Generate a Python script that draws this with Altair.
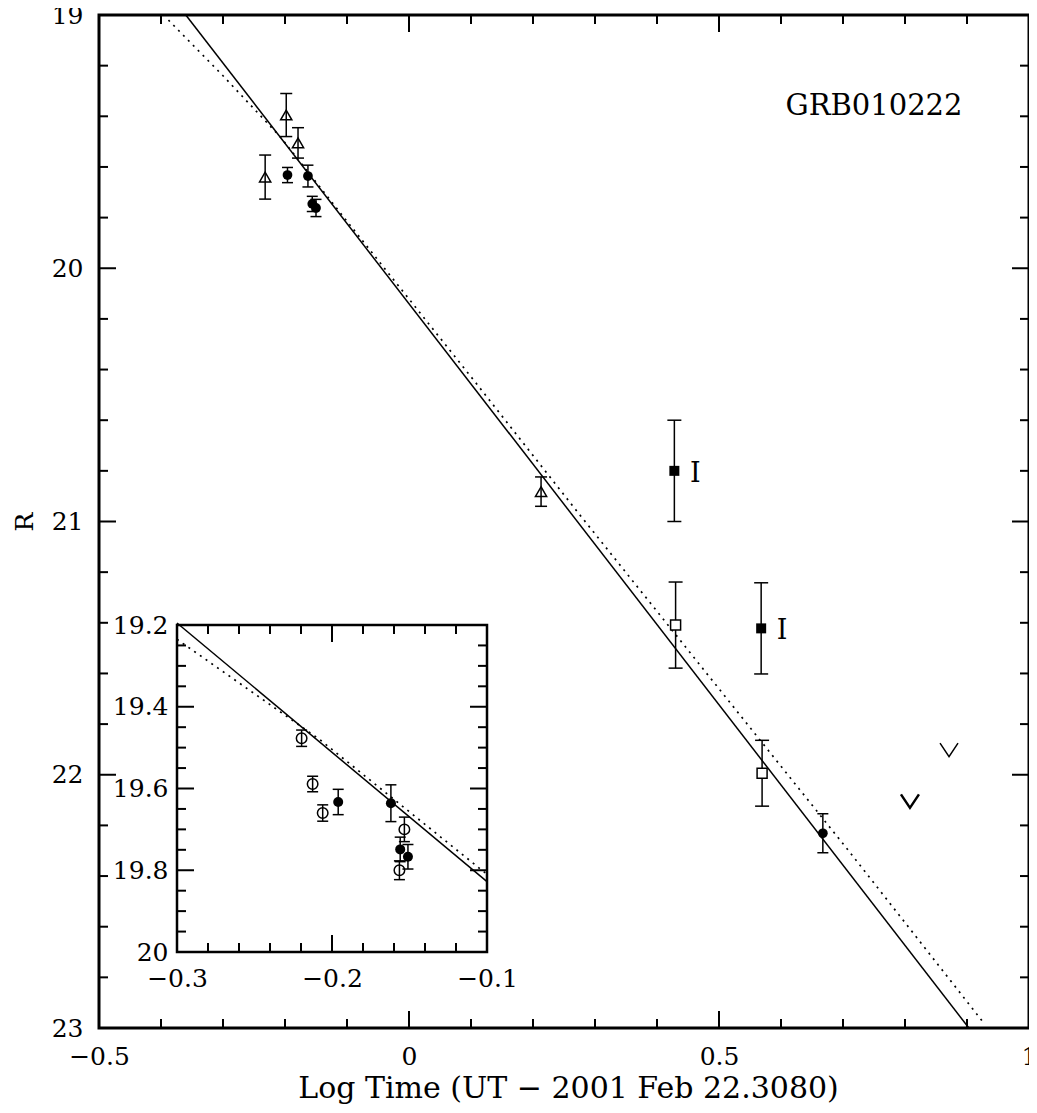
import altair as alt
import pandas as pd

F = "DejaVu Serif"

# ---------------- main panel data (Log time, R) ----------------
tri_x = [-0.232, -0.198, -0.179, 0.213]
tri_r = [19.64, 19.395, 19.505, 20.882]
tri_e = [0.087, 0.085, 0.06, 0.058]

cir_x = [-0.196, -0.163, -0.156, -0.150, 0.6675]
cir_r = [19.632, 19.636, 19.746, 19.762, 22.231]
cir_e = [0.03, 0.043, 0.03, 0.034, 0.077]

osq_x = [0.430, 0.5695]
osq_r = [21.409, 21.994]
osq_e = [0.17, 0.13]

isq_x = [0.428, 0.568]
isq_r = [20.80, 21.422]
isq_e = [0.20, 0.18]
isq_band = ["I", "I"]

lim_x = [0.808, 0.871]
lim_r = [22.104, 21.902]
lim_w = [2.5, 1.5]

solid_x = [-0.36, 0.903]
solid_r = [19.0, 23.0]
dot_x = [-0.388, -0.3, -0.208, -0.108, 0.107, 0.271, 0.709, 0.927]
dot_r = [19.02, 19.24, 19.48, 19.79, 20.45, 20.96, 22.30, 22.98]

label_x = [0.75]
label_r = [19.36]
label_t = ["GRB010222"]

# ---------------- inset data ----------------
in_open_x = [-0.2196, -0.2125, -0.206, -0.1533, -0.1565]
in_open_r = [19.477, 19.589, 19.660, 19.700, 19.800]
in_open_e = [0.02, 0.019, 0.02, 0.03, 0.023]

in_fill_x = [-0.196, -0.162, -0.156, -0.151]
in_fill_r = [19.633, 19.636, 19.749, 19.767]
in_fill_e = [0.031, 0.045, 0.03, 0.03]

in_solid_x = [-0.3, -0.1]
in_solid_r = [19.195, 19.828]
in_dot_x = [-0.3, -0.208, -0.1]
in_dot_r = [19.235, 19.48, 19.81]

# ---------------- tick values ----------------
main_x_major = [-0.5, 0, 0.5, 1]
main_x_minor = [-0.4, -0.3, -0.2, -0.1, 0.1, 0.2, 0.3, 0.4, 0.6, 0.7, 0.8, 0.9]
main_y_major = [19, 20, 21, 22, 23]
main_y_minor = [19.2, 19.4, 19.6, 19.8, 20.2, 20.4, 20.6, 20.8, 21.2, 21.4,
                21.6, 21.8, 22.2, 22.4, 22.6, 22.8]
in_x_major = [-0.3, -0.2, -0.1]
in_x_minor = [-0.28, -0.26, -0.24, -0.22, -0.18, -0.16, -0.14, -0.12]
in_y_major = [19.2, 19.4, 19.6, 19.8, 20.0]
in_y_minor = [19.25, 19.3, 19.35, 19.45, 19.5, 19.55, 19.65, 19.7, 19.75,
              19.85, 19.9, 19.95]

# ---------------- layout ----------------
W, H = 930, 1013
IX0, IX1, IY0, IY1 = 78, 388, 610, 937
MAJ, MIN = 17, 9

xs_main = alt.Scale(domain=[main_x_major[0], main_x_major[-1]], nice=False, zero=False)
ys_main = alt.Scale(domain=[main_y_major[0], main_y_major[-1]], nice=False, zero=False, reverse=True)
xs_in = alt.Scale(domain=[in_x_major[0], in_x_major[-1]], range=[IX0, IX1], nice=False, zero=False)
ys_in = alt.Scale(domain=[in_y_major[0], in_y_major[-1]], range=[IY0, IY1], nice=False, zero=False)

ax_main_x = alt.Axis(values=main_x_major, format=".1~f", ticks=False, domain=False, grid=False,
                     labelFont=F, labelFontSize=25, labelColor="black", labelPadding=16,
                     labelFlush=False, labelOverlap=False,
                     title="Log Time (UT \u2212 2001 Feb 22.3080)", titleFont=F, titleFontSize=30,
                     titleFontWeight="normal", titleColor="black", titleX=W / 2 + 4, titleY=69,
                     titleAlign="center", titleBaseline="alphabetic")
ax_main_y = alt.Axis(values=main_y_major, format="d", ticks=False, domain=False, grid=False,
                     labelFont=F, labelFontSize=25, labelColor="black", labelPadding=16,
                     labelOverlap=False,
                     title="R", titleFont=F, titleFontSize=25, titleFontWeight="normal",
                     titleColor="black", titleAngle=270, titleX=-75, titleY=H / 2,
                     titleAlign="center", titleBaseline="middle")
ax_in_x = alt.Axis(values=in_x_major, format=".1f", orient="bottom", offset=-(H - IY1),
                   ticks=False, domain=False, grid=False, labelFont=F, labelFontSize=25,
                   labelColor="black", labelPadding=14, labelFlush=False, labelOverlap=False,
                   title=None)
ax_in_y = alt.Axis(values=in_y_major, format=".1~f", orient="left", offset=-IX0,
                   ticks=False, domain=False, grid=False, labelFont=F, labelFontSize=25,
                   labelColor="black", labelPadding=9, labelOverlap=False, title=None)


def X(field, sc, ax):
    return alt.X(field, type="quantitative", scale=sc, axis=ax)


def Y(field, sc, ax):
    return alt.Y(field, type="quantitative", scale=sc, axis=ax)


def errbars(xv, rv, ev, sc_x, sc_y, axx, axy, cap):
    df = pd.DataFrame({"x": xv, "lo": [r - e for r, e in zip(rv, ev)],
                       "hi": [r + e for r, e in zip(rv, ev)]})
    base = alt.Chart(df)
    rule = base.mark_rule(color="black", strokeWidth=1.5).encode(
        x=X("x", sc_x, axx), y=Y("lo", sc_y, axy), y2="hi:Q")
    c1 = base.mark_point(shape="M-1,0L1,0", filled=False, color="black", strokeWidth=1.5,
                         size=cap * cap, opacity=1).encode(x=X("x", sc_x, axx), y=Y("lo", sc_y, axy))
    c2 = base.mark_point(shape="M-1,0L1,0", filled=False, color="black", strokeWidth=1.5,
                         size=cap * cap, opacity=1).encode(x=X("x", sc_x, axx), y=Y("hi", sc_y, axy))
    return [rule, c1, c2]


def ticks_x(vals, sc, ax, y_bottom, y_top, length):
    df = pd.DataFrame({"v": vals})
    b = alt.Chart(df).mark_rule(color="black", strokeWidth=2).encode(
        x=X("v", sc, ax), y=alt.value(y_bottom), y2=alt.value(y_bottom - length))
    t = alt.Chart(df).mark_rule(color="black", strokeWidth=2).encode(
        x=X("v", sc, ax), y=alt.value(y_top), y2=alt.value(y_top + length))
    return [b, t]


def ticks_y(vals, sc, ax, x_left, x_right, length):
    df = pd.DataFrame({"v": vals})
    l = alt.Chart(df).mark_rule(color="black", strokeWidth=2).encode(
        y=Y("v", sc, ax), x=alt.value(x_left), x2=alt.value(x_left + length))
    r = alt.Chart(df).mark_rule(color="black", strokeWidth=2).encode(
        y=Y("v", sc, ax), x=alt.value(x_right), x2=alt.value(x_right - length))
    return [l, r]


# ---------------- main layers ----------------
ml = []
ml += ticks_x(main_x_major, xs_main, ax_main_x, H, 0, MAJ)
ml += ticks_x(main_x_minor, xs_main, ax_main_x, H, 0, MIN)
ml += ticks_y(main_y_major, ys_main, ax_main_y, 0, W, MAJ)
ml += ticks_y(main_y_minor, ys_main, ax_main_y, 0, W, MIN)

ml.append(alt.Chart(pd.DataFrame({"x": solid_x, "r": solid_r})).mark_line(
    color="black", strokeWidth=1.5).encode(x=X("x", xs_main, ax_main_x), y=Y("r", ys_main, ax_main_y)))
ml.append(alt.Chart(pd.DataFrame({"x": dot_x, "r": dot_r})).mark_line(
    color="black", strokeWidth=1.7, strokeDash=[2, 5]).encode(
    x=X("x", xs_main, ax_main_x), y=Y("r", ys_main, ax_main_y)))

ml += errbars(tri_x, tri_r, tri_e, xs_main, ys_main, ax_main_x, ax_main_y, 12)
ml += errbars(cir_x, cir_r, cir_e, xs_main, ys_main, ax_main_x, ax_main_y, 11)
ml += errbars(osq_x, osq_r, osq_e, xs_main, ys_main, ax_main_x, ax_main_y, 14)
ml += errbars(isq_x, isq_r, isq_e, xs_main, ys_main, ax_main_x, ax_main_y, 14)

ml.append(alt.Chart(pd.DataFrame({"x": tri_x, "r": tri_r})).mark_point(
    shape="triangle-up", filled=False, color="black", strokeWidth=1.5, size=125, opacity=1).encode(
    x=X("x", xs_main, ax_main_x), y=Y("r", ys_main, ax_main_y)))
ml.append(alt.Chart(pd.DataFrame({"x": cir_x, "r": cir_r})).mark_point(
    shape="circle", filled=True, color="black", size=95, opacity=1).encode(
    x=X("x", xs_main, ax_main_x), y=Y("r", ys_main, ax_main_y)))
ml.append(alt.Chart(pd.DataFrame({"x": osq_x, "r": osq_r})).mark_point(
    shape="square", filled=True, fill="white", stroke="black", strokeWidth=1.5, size=100, opacity=1).encode(
    x=X("x", xs_main, ax_main_x), y=Y("r", ys_main, ax_main_y)))
ml.append(alt.Chart(pd.DataFrame({"x": isq_x, "r": isq_r})).mark_point(
    shape="square", filled=True, color="black", size=100, opacity=1).encode(
    x=X("x", xs_main, ax_main_x), y=Y("r", ys_main, ax_main_y)))
ml.append(alt.Chart(pd.DataFrame({"x": isq_x, "r": isq_r, "b": isq_band})).mark_text(
    font=F, fontSize=27, color="black", dx=21, dy=3, align="center", baseline="middle").encode(
    x=X("x", xs_main, ax_main_x), y=Y("r", ys_main, ax_main_y), text="b:N"))
ml.append(alt.Chart(pd.DataFrame({"x": lim_x, "r": lim_r, "w": lim_w})).mark_point(
    shape="M-1,-0.75L0,0.75L1,-0.75", filled=False, color="black", size=324, opacity=1).encode(
    x=X("x", xs_main, ax_main_x), y=Y("r", ys_main, ax_main_y),
    strokeWidth=alt.StrokeWidth("w:Q", scale=None)))
ml.append(alt.Chart(pd.DataFrame({"x": label_x, "r": label_r, "t": label_t})).mark_text(
    font=F, fontSize=29, color="black", align="center", baseline="middle").encode(
    x=X("x", xs_main, ax_main_x), y=Y("r", ys_main, ax_main_y), text="t:N"))

main = alt.layer(*ml)

# ---------------- inset layers ----------------
il = []
frame = pd.DataFrame({"x": [in_x_major[0]], "x2": [in_x_major[-1]],
                      "y": [in_y_major[0]], "y2": [in_y_major[-1]]})
il.append(alt.Chart(frame).mark_rect(fill="white", stroke="black", strokeWidth=2.5).encode(
    x=X("x", xs_in, ax_in_x), x2="x2:Q", y=Y("y", ys_in, ax_in_y), y2="y2:Q"))
il += ticks_x(in_x_major, xs_in, ax_in_x, IY1, IY0, MAJ)
il += ticks_x(in_x_minor, xs_in, ax_in_x, IY1, IY0, MIN)
il += ticks_y(in_y_major, ys_in, ax_in_y, IX0, IX1, MAJ)
il += ticks_y(in_y_minor, ys_in, ax_in_y, IX0, IX1, MIN)

il.append(alt.Chart(pd.DataFrame({"x": in_solid_x, "r": in_solid_r})).mark_line(
    color="black", strokeWidth=1.5).encode(x=X("x", xs_in, ax_in_x), y=Y("r", ys_in, ax_in_y)))
il.append(alt.Chart(pd.DataFrame({"x": in_dot_x, "r": in_dot_r})).mark_line(
    color="black", strokeWidth=1.7, strokeDash=[2, 5]).encode(
    x=X("x", xs_in, ax_in_x), y=Y("r", ys_in, ax_in_y)))

il += errbars(in_open_x, in_open_r, in_open_e, xs_in, ys_in, ax_in_x, ax_in_y, 11)
il += errbars(in_fill_x, in_fill_r, in_fill_e, xs_in, ys_in, ax_in_x, ax_in_y, 11)

il.append(alt.Chart(pd.DataFrame({"x": in_open_x, "r": in_open_r})).mark_point(
    shape="circle", filled=False, color="black", strokeWidth=1.5, size=110, opacity=1).encode(
    x=X("x", xs_in, ax_in_x), y=Y("r", ys_in, ax_in_y)))
il.append(alt.Chart(pd.DataFrame({"x": in_fill_x, "r": in_fill_r})).mark_point(
    shape="circle", filled=True, color="black", size=100, opacity=1).encode(
    x=X("x", xs_in, ax_in_x), y=Y("r", ys_in, ax_in_y)))

inset = alt.layer(*il)

chart = alt.layer(main, inset).resolve_scale(x="independent", y="independent").properties(
    width=W, height=H,
    autosize=alt.AutoSizeParams(type="none"),
    padding={"left": 91, "top": 7, "right": 0, "bottom": 77},
).configure_view(stroke="black", strokeWidth=3)

chart.save("out.html", embed_options={"renderer": "svg", "actions": False})
